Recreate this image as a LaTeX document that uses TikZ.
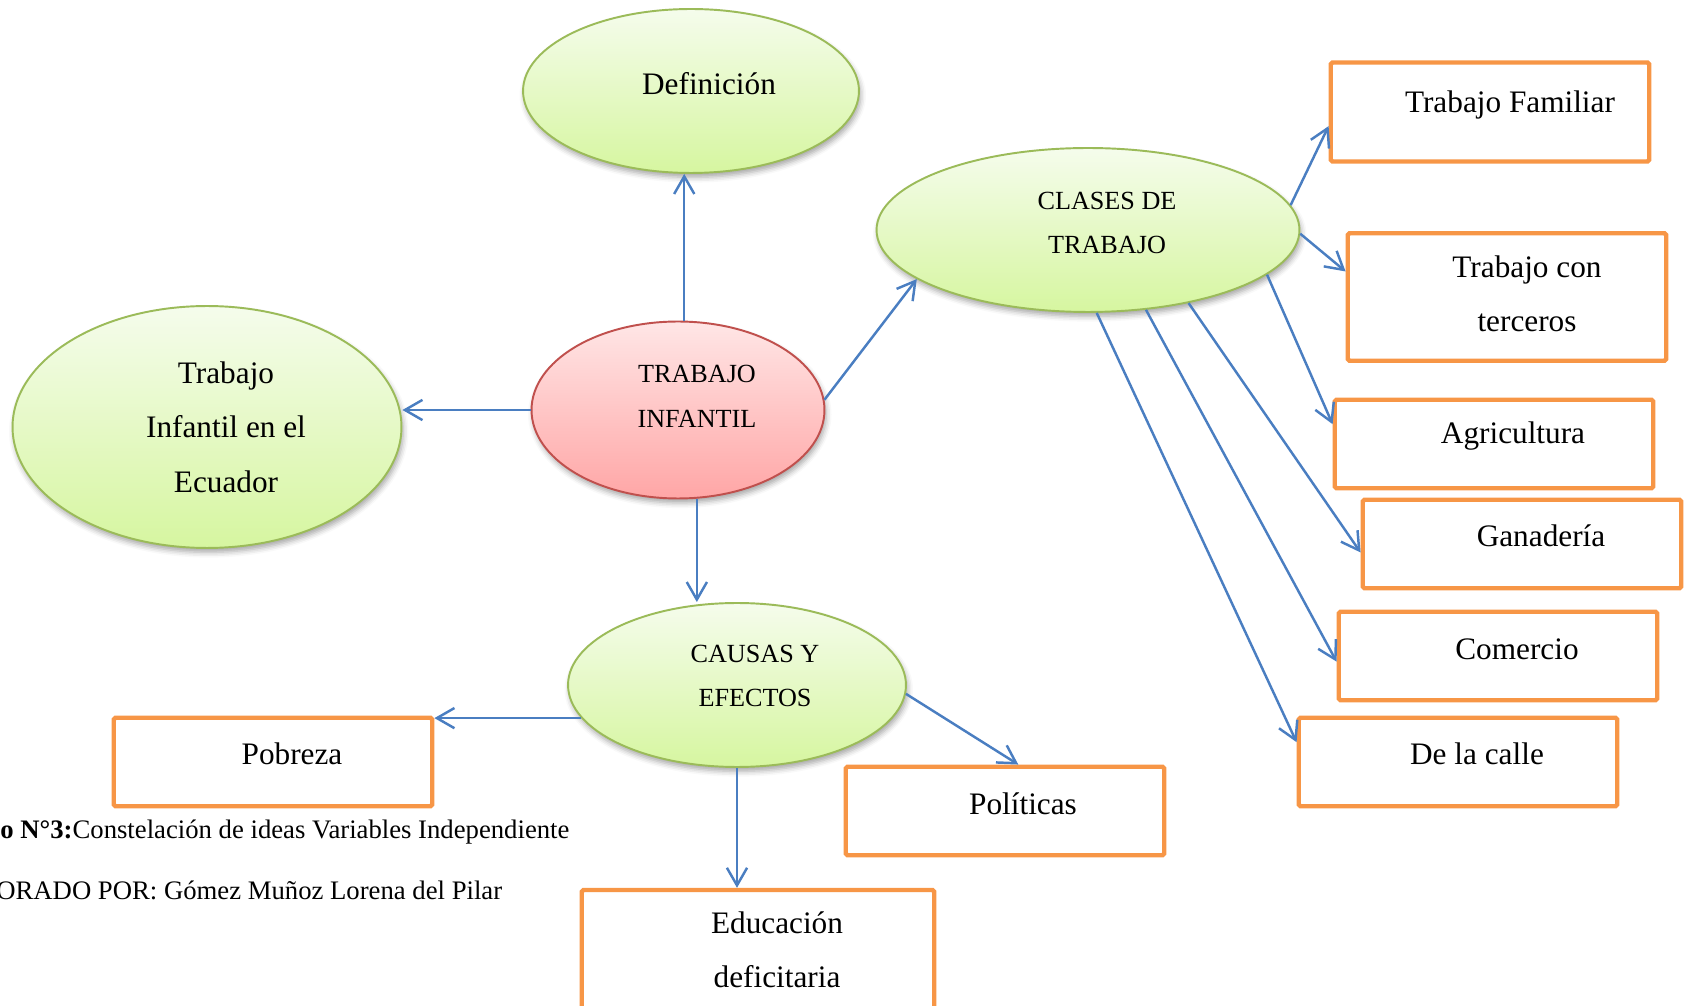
\documentclass[tikz,border=0pt]{standalone}
\usepackage{fontspec}
\setmainfont{Liberation Serif}
\usetikzlibrary{arrows.meta,shapes.geometric,shadows.blur}

\definecolor{gtop}{RGB}{245,252,236}
\definecolor{gbot}{RGB}{214,246,160}
\definecolor{gline}{RGB}{155,187,89}
\definecolor{rtop}{RGB}{255,230,230}
\definecolor{rbot}{RGB}{255,166,166}
\definecolor{rline}{RGB}{192,80,77}
\definecolor{orng}{RGB}{247,150,70}
\definecolor{lblue}{RGB}{74,126,193}

\tikzset{
  idea/.style = {ellipse, draw = gline, line width = 1.1pt, top color = gtop, bottom color = gbot,
    blur shadow = {shadow xshift = 1pt, shadow yshift = -2.5pt, shadow blur radius = 3pt, shadow opacity = 35}},
  core/.style = {idea, draw = rline, top color = rtop, bottom color = rbot},
  box/.style = {rectangle, draw = orng, line width = 2.5pt, fill = white, rounded corners = 1pt,
    minimum width = 6.37cm, minimum height = 1.77cm},
  link/.style = {draw = lblue, line width = 1.4pt, -{Straight Barb[length = 10pt, width = 11.5pt]}},
  big/.style = {font = \fontsize{17.8}{31}\selectfont, align = center, inner sep = 0pt},
  caps/.style = {font = \fontsize{14.9}{25.5}\selectfont, align = center, inner sep = 0pt},
  note/.style = {font = \fontsize{15.2}{18}\selectfont, anchor = west, inner sep = 0pt},
}

\begin{document}
\begin{tikzpicture}[x = 0.02cm, y = -0.02cm]
      \useasboundingbox (0,0) rectangle (1685,1006);

      \node[idea, minimum width = 6.72cm, minimum height = 3.28cm] (def) at (691,91) {};
      \node[idea, minimum width = 7.78cm, minimum height = 4.84cm] (ecu) at (207,427) {};
      \node[core, minimum width = 5.86cm, minimum height = 3.54cm] (ti) at (678,410) {};
      \node[idea, minimum width = 8.46cm, minimum height = 3.28cm] (cla) at (1088,230) {};
      \node[idea, minimum width = 6.76cm, minimum height = 3.28cm] (cau) at (737,685) {};

      \node[big] (def-t) at (709,84) {Definición};
      \node[big] (ecu-t) at (226,427) {Trabajo\\Infantil en el\\Ecuador};
      \node[caps] (ti-t) at (697,396) {TRABAJO\\INFANTIL};
      \node[caps] (cla-t) at (1107,223) {CLASES DE\\TRABAJO};
      \node[caps] (cau-t) at (755,676) {CAUSAS Y\\EFECTOS};

      \node[box, minimum height = 1.98cm] (f1) at (1490,112) {};
      \node[box, minimum height = 2.55cm] (f2) at (1507,297) {};
      \node[box] (f3) at (1494,444) {};
      \node[box] (f4) at (1522,544) {};
      \node[box] (f5) at (1498,656) {};
      \node[box] (f6) at (1458,762) {};

      \node[big] (f1-t) at (1510,105) {Trabajo Familiar};
      \node[big] (f2-t) at (1527,294) {Trabajo con\\terceros};
      \node[big] (f3-t) at (1513,436) {Agricultura};
      \node[big] (f4-t) at (1541,536) {Ganadería};
      \node[big] (f5-t) at (1517,649) {Comercio};
      \node[big] (f6-t) at (1477,754) {De la calle};

      \node[box] (c1) at (273,762) {};
      \node[box] (c2) at (1005,811) {};
      \node[box, minimum width = 7.05cm, minimum height = 2.4cm] (c3) at (758,950) {};

      \node[big] (c1-t) at (292,754) {Pobreza};
      \node[big] (c2-t) at (1023,804) {Políticas};
      \node[big] (c3-t) at (777,950) {Educación\\deficitaria};

      \node[note] (g1) at (0,832) {\textbf{o N°3:}Constelación de ideas Variables Independiente};
      \node[note] (g2) at (-4,890) {ORADO POR: Gómez Muñoz Lorena del Pilar};

      \draw[link] (ti.86) -- (ti.86 |- def.south);
      \draw[link] (ti.west) -- (ti.west -| ecu.east);
      \draw[link] (ti.4) -- (cla.196);
      \draw[link] (ti.282) -- (ti.282 |- cau.north);

      \draw[link] (cla.7) -- (f1.185);
      \draw[link] (cla.359) -- (f2.171);
      \draw[link] (cla.346) -- (f3.173);
      \draw[link] (cla.324) -- (f4.183);
      \draw[link] (cla.306) -- (f5.182);
      \draw[link] (cla.276) -- (f6.173);

      \draw[link] (cau.192) -- (cau.192 -| c1.east);
      \draw[link] (cau.357) -- (c2.74);
      \draw[link] (cau.south) -- (cau.south |- c3.north);
\end{tikzpicture}
\end{document}
